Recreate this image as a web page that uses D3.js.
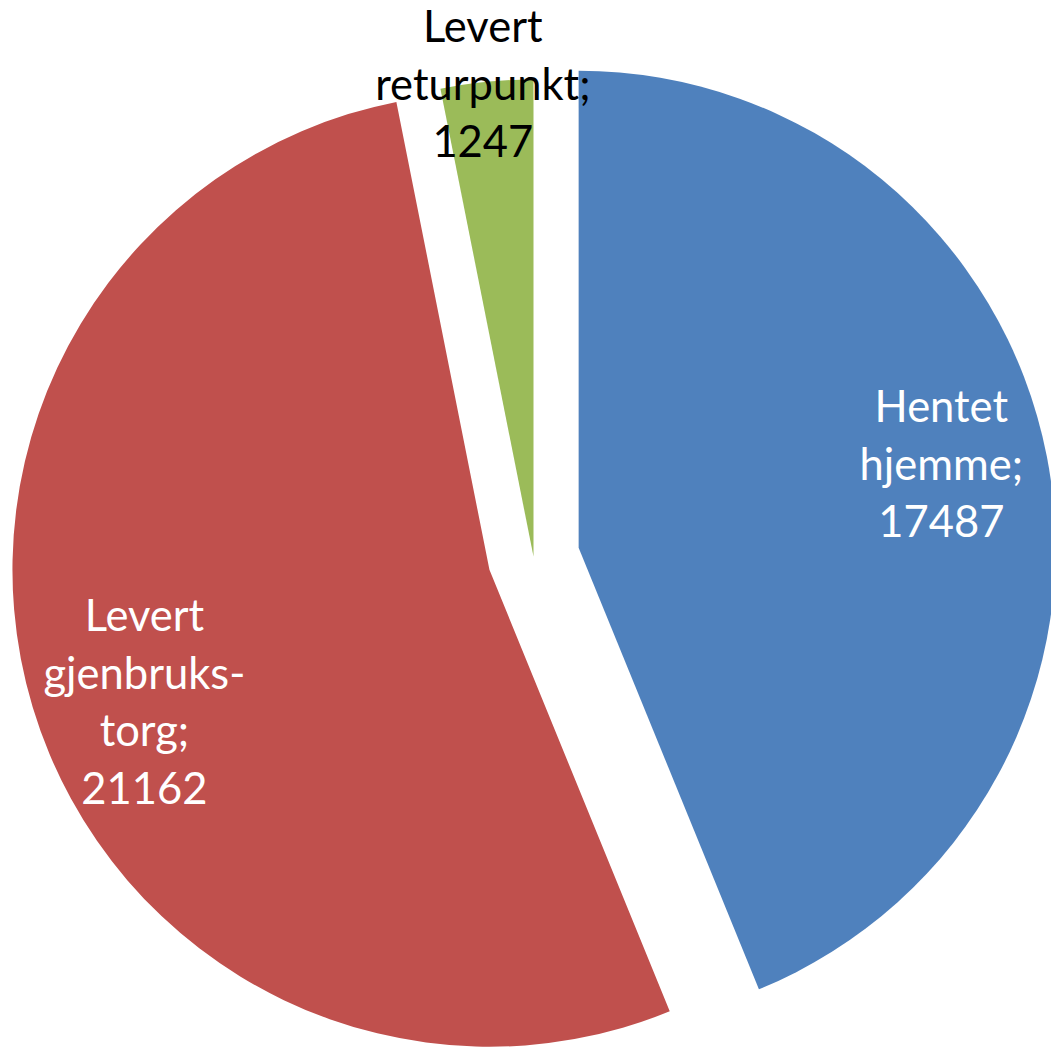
<!DOCTYPE html>
<html>
    <head>
        <meta charset="utf-8">
        <script src="https://d3js.org/d3.v7.min.js"></script>
        <style>
            body { margin: 0; background: #fff; }
        </style>
    </head>
    <body>
        <div id="chart"></div>
        <script>
            // slice data, clockwise from 12 o'clock
            const labels = [["Hentet", "hjemme;"], ["Levert", "gjenbruks-", "torg;"], ["Levert", "returpunkt;"]]
            const values = [17487, 21162, 1247]
            const colors = ["#4F81BD", "#C0504D", "#9BBB59"]
            const textColors = ["#fff", "#fff", "#000"]
            // how far each slice is pulled out of the pie (px)
            const explode = [46, 46, 0]
            // label placement: fraction of radius + small angle nudge (deg)
            const labelRadius = [0.78, 0.775, 0.995]
            const labelNudge = [-1.8, -4.3, -0.5]

            width = 1051
            height = 1047
            cx = 533.5
            cy = 556.5
            radius = 477
            fontSize = 43.5
            lineH = 57.5

            const svg = d3.select("#chart")
                .append("svg")
                .attr("width", width)
                .attr("height", height)

            const pie = d3.pie().sort(null).value(d => d)
            const arcs = pie(values)

            const arc = d3.arc().innerRadius(0).outerRadius(radius)

            const polar = (a, r) => [r * Math.sin(a), -r * Math.cos(a)]

            const g = svg.append("g").attr("transform", `translate(${cx},${cy})`)

            const slice = g.selectAll("g.slice")
                .data(arcs)
                .join("g")
                .attr("class", "slice")
                .attr("transform", (d, i) => {
                    const mid = (d.startAngle + d.endAngle) / 2
                    const [dx, dy] = polar(mid, explode[i])
                    return `translate(${dx},${dy})`
                })

            slice.append("path")
                .attr("d", arc)
                .attr("fill", (d, i) => colors[i])

            slice.append("text")
                .attr("font-family", "Lato, 'Open Sans', sans-serif")
                .attr("font-size", fontSize)
                .attr("fill", (d, i) => textColors[i])
                .attr("text-anchor", "middle")
                .each(function(d, i) {
                    const lines = labels[i].concat([String(values[i])])
                    const mid = (d.startAngle + d.endAngle) / 2 + labelNudge[i] * Math.PI / 180
                    const [lx, ly] = polar(mid, radius * labelRadius[i])
                    const y0 = ly - (lines.length - 1) / 2 * lineH + fontSize * 0.35
                    d3.select(this).selectAll("tspan")
                        .data(lines)
                        .join("tspan")
                        .attr("x", lx)
                        .attr("y", (t, k) => y0 + k * lineH)
                        .text(t => t)
                })
        </script>
    </body>
</html>
